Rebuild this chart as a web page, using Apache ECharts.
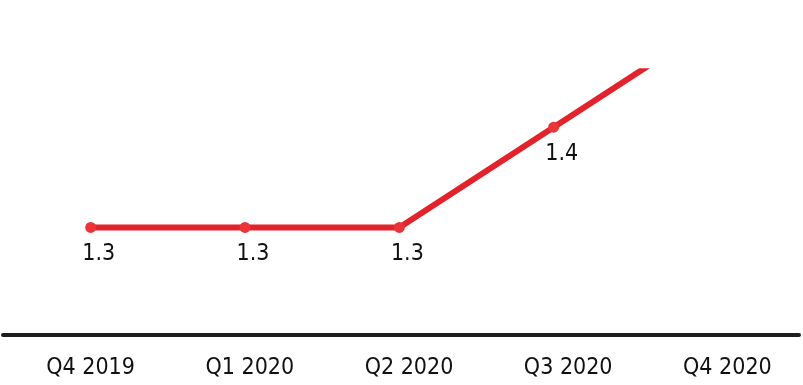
<!DOCTYPE html>
<html>
<head>
<meta charset="utf-8">
<script src="https://cdn.jsdelivr.net/npm/echarts@6/dist/echarts.min.js"></script>
<style>
html,body{margin:0;padding:0;background:#fff;}
#c{width:803px;height:385px;}
</style>
</head>
<body>
<div id="c"></div>
<script>
const categories = ['Q4 2019', 'Q1 2020', 'Q2 2020', 'Q3 2020', 'Q4 2020'];
const values = [1.3, 1.3, 1.3, 1.4, 1.5];
const FONT = '"DejaVu Sans Condensed", "Liberation Sans", sans-serif';

const chart = echarts.init(document.getElementById('c'), null, {renderer: 'canvas'});
chart.setOption({
  animation: false,
  backgroundColor: '#ffffff',
  grid: [
    {left: 90.7, right: 95, top: 71.3, bottom: 51},
    {left: 3, right: 4, top: 68.3, bottom: 50.5}
  ],
  xAxis: [
    {
      type: 'category', gridIndex: 0, data: categories, boundaryGap: false,
      axisLine: {show: false}, axisTick: {show: false}, axisLabel: {show: false}, splitLine: {show: false}
    },
    {
      type: 'category', gridIndex: 1, data: categories, boundaryGap: true,
      axisLine: {show: true, lineStyle: {color: '#1e1e1e', width: 4}},
      axisTick: {show: false}, splitLine: {show: false},
      axisLabel: {
        show: true, color: '#111', fontFamily: FONT, fontSize: 23, margin: 22,
        padding: [0, 0, 0, 16]
      }
    }
  ],
  yAxis: [
    {type: 'value', gridIndex: 0, min: 1.1936, max: 1.4558, show: false},
    {type: 'value', gridIndex: 1, min: 0, max: 1, show: false}
  ],
  series: [{
    type: 'line',
    xAxisIndex: 0, yAxisIndex: 0,
    data: values,
    clip: true,
    lineStyle: {color: '#e3232b', width: 6},
    itemStyle: {color: '#ea3439'},
    symbol: 'circle', symbolSize: 11,
    label: {
      show: true, position: 'bottom', distance: 10, offset: [8, 0],
      color: '#111', fontFamily: FONT, fontSize: 23,
      formatter: p => p.value.toFixed(1)
    }
  }]
});
</script>
</body>
</html>
